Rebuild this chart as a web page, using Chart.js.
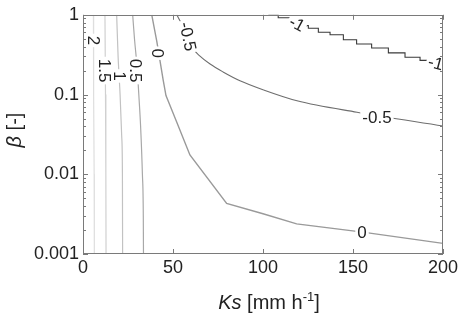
<!DOCTYPE html>
<html><head><meta charset="utf-8">
<script src="https://cdn.jsdelivr.net/npm/chart.js@4"></script>
<style>html,body{margin:0;padding:0;background:#fff;}#wrap{width:465px;height:318px;position:relative;}</style>
</head><body><div id="wrap"><canvas id="c"></canvas></div>
<script>
// Axis ticks
const xTicks = [0, 50, 100, 150, 200];
const yTicks = [0.001, 0.01, 0.1, 1];
const yTickLabels = ['0.001', '0.01', '0.1', '1'];
// Contour levels and their lines, [Ks, beta]
const levels = ['2', '1.5', '1', '0.5', '0', '-0.5', '-1'];
const line2   = [[5.8,1],[5.9,0.1],[6.2,0.01],[6.3,0.001]];
const line15  = [[12.2,1],[12.5,0.1],[12.7,0.01],[12.8,0.001]];
const line1   = [[18.7,1],[19.5,0.3],[20.6,0.1],[21.5,0.03],[21.9,0.01],[22,0.001]];
const line05  = [[27.6,1],[28.6,0.5],[30.2,0.2],[31,0.1],[32,0.04],[33,0.01],[33.5,0.003],[33.6,0.001]];
const line0   = [[38.2,1],[41,0.464],[44.6,0.149],[46.1,0.097],[52.1,0.045],[59.4,0.0175],[79.8,0.0043],[100,0.0032],[118.7,0.00239],[155.4,0.00188],[200,0.00136]];
const lineM05 = [[52.1,1],[58.3,0.535],[61.1,0.38],[65,0.303],[70.6,0.241],[77.8,0.192],[87.2,0.149],[100,0.115],[118.9,0.0836],[152.2,0.06],[200,0.0403]];
const lineM1  = [[103,1],[113.9,0.918],[118.9,0.774],[122.4,0.731],[128,0.677],[133.5,0.604],[141,0.562],[148.3,0.487],[155.7,0.43],[165,0.384],[174.3,0.333],[183.5,0.294],[191,0.268],[200,0.241]];
// Inline contour labels: text, [Ks, beta], rotation (deg)
const contourLabels = [
  ['2',   [5.8, 0.477], 90],
  ['1.5', [12.2, 0.2], 90],
  ['1',   [20.2, 0.171], 90],
  ['0.5', [29.4, 0.2], 90],
  ['0',   [41.7, 0.33], 90],
  ['-0.5',[58.3, 0.535], 78],
  ['-1',  [118.9, 0.774], 28],
  ['-1',  [196, 0.248], 15],
  ['-0.5',[163.3, 0.052], 0],
  ['0',   [155, 0.00186], 0]
];

const lines = [line2, line15, line1, line05, line0, lineM05, lineM1];
const colors = ['#dedede', '#d0d0d0', '#c2c2c2', '#a8a8a8', '#9a9a9a', '#6e6e6e', '#3a3a3a'];
const widths = [1.2, 1.2, 1.2, 1.2, 1.4, 1.1, 1.1];
const FONT = '"Liberation Sans", Arial, Helvetica, sans-serif';

const datasets = lines.map((pts, i) => ({
  label: levels[i],
  data: pts.map(p => ({x: p[0], y: p[1]})),
  borderColor: colors[i],
  borderWidth: widths[i],
  pointRadius: 0,
  fill: false,
  tension: 0,
  cubicInterpolationMode: (i === 5 || i === 2 || i === 3) ? 'monotone' : 'default',
  stepped: i === 6 ? 'middle' : false
}));

const decoPlugin = {
  id: 'deco',
  afterDatasetsDraw(chart) {
    const ctx = chart.ctx, xs = chart.scales.x, ys = chart.scales.y;
    ctx.save();
    ctx.font = '17px ' + FONT;
    ctx.textAlign = 'center';
    ctx.textBaseline = 'middle';
    contourLabels.forEach(([t, at, rot]) => {
      const px = xs.getPixelForValue(at[0]), py = ys.getPixelForValue(at[1]);
      const w = ctx.measureText(t).width;
      ctx.save();
      ctx.translate(px, py);
      ctx.rotate(rot * Math.PI / 180);
      ctx.fillStyle = '#fff';
      ctx.fillRect(-w / 2 - 2, -7, w + 4, 14);
      ctx.fillStyle = '#222';
      ctx.fillText(t, 0, 1);
      ctx.restore();
    });
    ctx.restore();
  },
  afterDraw(chart) {
    const ctx = chart.ctx, a = chart.chartArea, xs = chart.scales.x, ys = chart.scales.y;
    ctx.save();
    ctx.strokeStyle = '#7a7a7a';
    ctx.lineWidth = 1;
    ctx.strokeRect(Math.round(a.left) + 0.5, Math.round(a.top) + 0.5, Math.round(a.right - a.left) - 1, Math.round(a.bottom - a.top) - 1);
    ctx.beginPath();
    xTicks.forEach(v => {
      const px = Math.round(xs.getPixelForValue(v)) + 0.5;
      ctx.moveTo(px, a.bottom); ctx.lineTo(px, a.bottom - 5);
      ctx.moveTo(px, a.top); ctx.lineTo(px, a.top + 5);
    });
    for (let e = -3; e <= 0; e++) {
      for (let m = 1; m <= 9; m++) {
        const v = m * Math.pow(10, e);
        if (v > 1.0001) break;
        const py = Math.round(ys.getPixelForValue(v)) + 0.5;
        const len = m === 1 ? 5 : 3;
        ctx.moveTo(a.left, py); ctx.lineTo(a.left + len, py);
        ctx.moveTo(a.right, py); ctx.lineTo(a.right - len, py);
      }
    }
    ctx.stroke();
    // Axis titles
    ctx.fillStyle = '#222';
    ctx.textBaseline = 'alphabetic';
    const parts = [['Ks', 'italic 20px ' + FONT, 0], [' [mm h', '20px ' + FONT, 0], ['-1', '13px ' + FONT, -8], [']', '20px ' + FONT, 0]];
    let total = 0;
    parts.forEach(p => { ctx.font = p[1]; total += ctx.measureText(p[0]).width; });
    let x = 269 - total / 2;
    ctx.textAlign = 'left';
    parts.forEach(p => { ctx.font = p[1]; ctx.fillText(p[0], x, 309 + p[2]); x += ctx.measureText(p[0]).width; });
    // y title
    ctx.save();
    ctx.translate(21, 130);
    ctx.rotate(-Math.PI / 2);
    const yp = [['\u03B2', 'italic 20px ' + FONT], [' [-]', '20px ' + FONT]];
    let tt = 0;
    yp.forEach(p => { ctx.font = p[1]; tt += ctx.measureText(p[0]).width; });
    let yx = -tt / 2;
    yp.forEach(p => { ctx.font = p[1]; ctx.fillText(p[0], yx, 0); yx += ctx.measureText(p[0]).width; });
    ctx.restore();
    ctx.restore();
  }
};

new Chart(document.getElementById('c'), {
  type: 'line',
  data: { datasets },
  plugins: [decoPlugin],
  options: {
    responsive: true,
    maintainAspectRatio: false,
    animation: false,
    layout: { padding: { top: 11, right: 22, left: 0, bottom: 0 } },
    plugins: { legend: { display: false }, tooltip: { enabled: false } },
    scales: {
      x: {
        type: 'linear', min: 0, max: 200,
        afterBuildTicks: s => { s.ticks = xTicks.map(v => ({ value: v })); },
        afterFit: s => { s.height = 64; },
        grid: { display: false, drawTicks: false },
        border: { display: false },
        ticks: { padding: 3, color: '#222', font: { family: FONT, size: 18 }, maxRotation: 0, callback: v => String(v) }
      },
      y: {
        type: 'logarithmic', min: 0.001, max: 1,
        afterBuildTicks: s => { s.ticks = yTicks.map(v => ({ value: v })); },
        afterFit: s => { s.width = 83; },
        grid: { display: false, drawTicks: false },
        border: { display: false },
        ticks: { padding: 4, color: '#222', font: { family: FONT, size: 18 }, callback: (v, i) => yTickLabels[i] }
      }
    }
  }
});
</script>
</body></html>
